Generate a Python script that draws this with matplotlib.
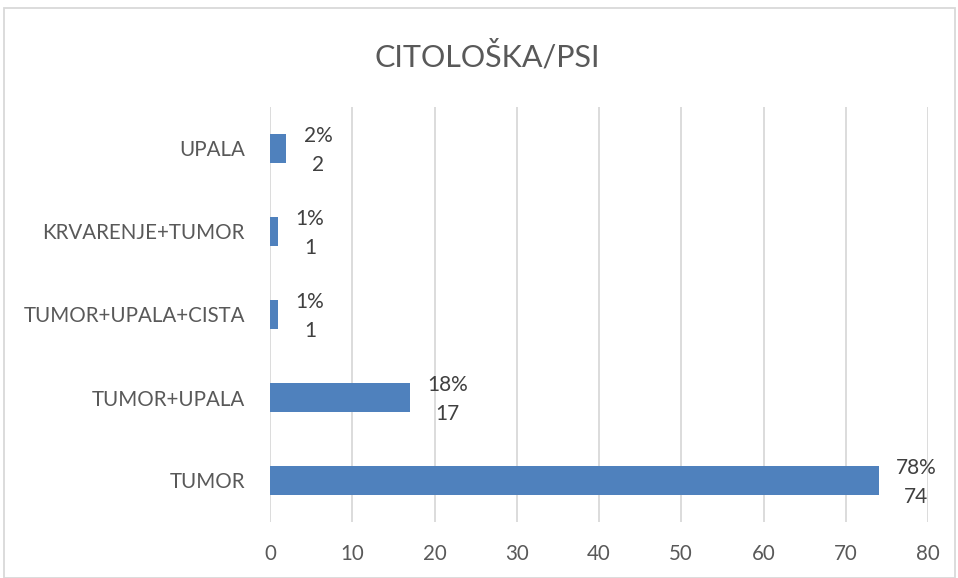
import matplotlib
matplotlib.use('Agg')
from matplotlib import pyplot as plt
from matplotlib.patches import Rectangle

categories = ['TUMOR', 'TUMOR+UPALA', 'TUMOR+UPALA+CISTA', 'KRVARENJE+TUMOR', 'UPALA']
counts = [74, 17, 1, 1, 2]
percents = ['78%', '18%', '1%', '1%', '2%']
x_ticks = [0, 10, 20, 30, 40, 50, 60, 70, 80]

plt.rcParams['font.family'] = ['Lato', 'DejaVu Sans']
text_color = '#595959'

fig = plt.figure(figsize=(9.58, 5.78), dpi=100)
ax = fig.add_axes([270/958, 56/578, 658/958, 415/578])

ax.barh(range(len(categories)), counts, height=0.35, color='#4F81BD', zorder=3)

for i, (c, p) in enumerate(zip(counts, percents)):
    ax.annotate(f'{p}\n{c}', (c, i), xytext=(12.5, -1.5), textcoords='offset points',
                ha='left', va='center', multialignment='center',
                fontsize=15, color='#404040', linespacing=1.55, zorder=4)

ax.set_xlim(0, 80)
ax.set_ylim(-0.5, len(categories) - 0.5)
ax.set_xticks(x_ticks)
ax.set_yticks(range(len(categories)))
ax.set_yticklabels(categories)
ax.tick_params(axis='both', length=0, labelsize=14.8, colors=text_color)
ax.tick_params(axis='x', pad=16)
ax.tick_params(axis='y', pad=18)
ax.grid(axis='x', color='#D9D9D9', linewidth=1.3, zorder=0)
for s in ax.spines.values():
    s.set_visible(False)

fig.text(487/958, 1 - 56/578, 'CITOLOŠKA/PSI', ha='center', va='center',
         fontsize=22, color=text_color)

fig.patches.append(Rectangle((4/958, 0), 951/958, 1 - 8/578, transform=fig.transFigure,
                             fill=False, edgecolor='#D9D9D9', linewidth=1.3))

fig.savefig('out.png', dpi=100)
